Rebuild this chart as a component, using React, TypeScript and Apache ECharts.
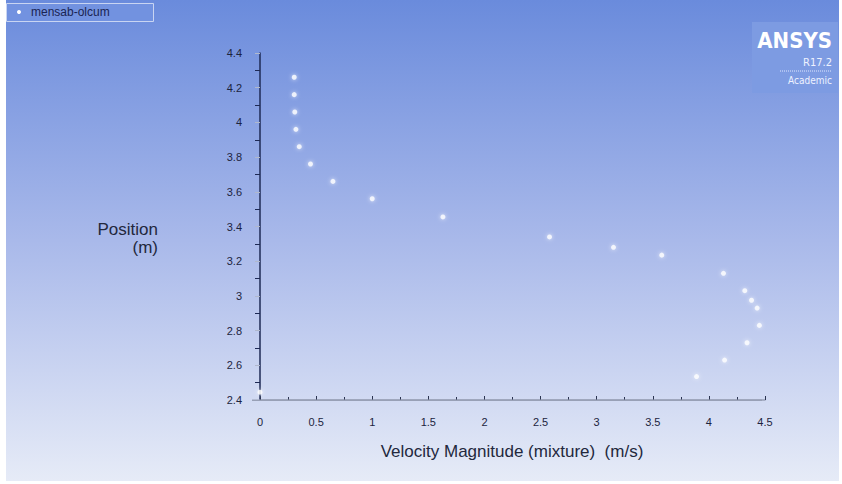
import React, { useEffect, useRef } from "react";
import * as echarts from "echarts";

const seriesName = "mensab-olcum";
const velocity = [0.305, 0.305, 0.31, 0.32, 0.35, 0.45, 0.65, 1.0, 1.63, 2.58, 3.15, 3.58, 4.13, 4.32, 4.38, 4.43, 4.45, 4.34, 4.14, 3.89, 0.0];
const position = [4.26, 4.16, 4.06, 3.96, 3.86, 3.76, 3.66, 3.56, 3.455, 3.34, 3.28, 3.235, 3.13, 3.03, 2.975, 2.93, 2.83, 2.73, 2.63, 2.535, 2.445];
const xTicks = [0, 0.5, 1, 1.5, 2, 2.5, 3, 3.5, 4, 4.5];
const yTicks = [2.4, 2.6, 2.8, 3, 3.2, 3.4, 3.6, 3.8, 4, 4.2, 4.4];

export default function App() {
  const ref = useRef<HTMLDivElement>(null);
  useEffect(() => {
    if (!ref.current) return;
    const chart = echarts.init(ref.current, null, { renderer: "svg" });
    const data = velocity.map((v, i) => [v, position[i]]);
    const font = "Liberation Sans Narrow, Liberation Sans, Arial, sans-serif";
    chart.setOption({
      animation: false,
      backgroundColor: "#ffffff",
      graphic: [
        {
          type: "rect",
          shape: { x: 6, y: 0, width: 833, height: 481 },
          style: {
            fill: new echarts.graphic.LinearGradient(0, 0, 0, 1, [
              { offset: 0, color: "#6a8bdc" },
              { offset: 0.5, color: "#a9b9ea" },
              { offset: 1, color: "#e6ebf7" },
            ]),
          },
          z: -10,
        },
        {
          type: "rect",
          shape: { x: 6.5, y: 3.5, width: 147, height: 18 },
          style: { fill: "#7292e0", stroke: "#c9d5f2", lineWidth: 1 },
          z: 1,
        },
        {
          type: "circle",
          shape: { cx: 19, cy: 12, r: 2 },
          style: { fill: "#ffffff" },
          z: 2,
        },
        {
          type: "text",
          x: 31,
          y: 12,
          style: { text: seriesName, fill: "#1a2452", font: "12px " + font, verticalAlign: "middle" },
          z: 2,
        },
        {
          type: "rect",
          shape: { x: 752, y: 22, width: 86, height: 71 },
          style: { fill: "#7d9be2" },
          z: 1,
        },
        {
          type: "text",
          x: 832,
          y: 40,
          style: { text: "ANSYS", fill: "#ffffff", font: "bold 22px DejaVu Sans Condensed, Liberation Sans, sans-serif", align: "right", verticalAlign: "middle" },
          z: 2,
        },
        {
          type: "text",
          x: 832,
          y: 62,
          style: { text: "R17.2", fill: "#eef2ff", font: "11px DejaVu Sans Condensed, Liberation Sans, sans-serif", align: "right", verticalAlign: "middle" },
          z: 2,
        },
        {
          type: "line",
          shape: { x1: 780, y1: 71, x2: 832, y2: 71 },
          style: { stroke: "#dfe7ff", lineWidth: 1, lineDash: [1, 1] },
          z: 2,
        },
        {
          type: "text",
          x: 832,
          y: 80,
          style: { text: "Academic", fill: "#eef2ff", font: "10px DejaVu Sans Condensed, Liberation Sans, sans-serif", align: "right", verticalAlign: "middle" },
          z: 2,
        },
        {
          type: "text",
          x: 158,
          y: 238,
          style: { text: "Position\n(m)", fill: "#23283d", font: "17px " + font, lineHeight: 18, align: "right", verticalAlign: "middle" },
          z: 2,
        },
        {
          type: "rect",
          shape: { x: 252, y: 399.5, width: 510, height: 1.5 },
          style: { fill: "#98a0b6" },
          z: 3,
        },
        {
          type: "text",
          x: 512,
          y: 451,
          style: { text: "Velocity Magnitude (mixture)  (m/s)", fill: "#23283d", font: "17px " + font, align: "center", verticalAlign: "middle" },
          z: 2,
        },
      ],
      grid: { left: 260, right: 77, top: 53, bottom: 84, containLabel: false },
      xAxis: {
        type: "value",
        min: xTicks[0],
        max: xTicks[xTicks.length - 1],
        interval: 0.5,
        axisLine: { show: true, onZero: false, lineStyle: { color: "#98a0b6", width: 1.5 } },
        axisTick: { show: true, inside: true, length: 4, lineStyle: { color: "#2a3350", width: 1 } },
        minorTick: { show: true, splitNumber: 2, length: 3, lineStyle: { color: "#2a3350", width: 1 } },
        axisLabel: { color: "#1c2440", fontSize: 11, fontFamily: font, margin: 16 },
        splitLine: { show: false },
      },
      yAxis: {
        type: "value",
        min: yTicks[0],
        max: yTicks[yTicks.length - 1],
        interval: 0.2,
        axisLine: { show: true, onZero: false, lineStyle: { color: "#1e2a55", width: 1.5 } },
        axisTick: { show: true, length: 5, lineStyle: { color: "#b0b8cc" } },
        minorTick: { show: true, splitNumber: 2, length: 5, lineStyle: { color: "#1e2a55" } },
        axisLabel: {
          color: "#1c2440",
          fontSize: 11,
          fontFamily: font,
          margin: 18,
          formatter: (v: number) => String(Math.round(v * 10) / 10),
        },
        splitLine: { show: false },
      },
      series: [
        {
          name: seriesName,
          type: "scatter",
          data,
          symbol: "circle",
          symbolSize: 5,
          itemStyle: { color: "#ffffff", shadowBlur: 4, shadowColor: "rgba(255,255,255,0.9)" },
          z: 5,
        },
      ],
    });
    return () => chart.dispose();
  }, []);
  return <div ref={ref} style={{ position: "fixed", left: 0, top: 0, width: 842, height: 484 }} />;
}
